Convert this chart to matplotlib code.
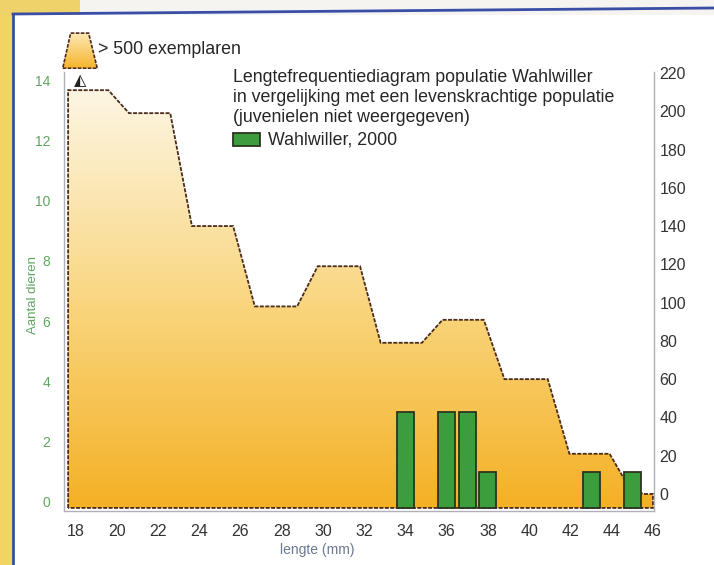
"""
Lengtefrequentiediagram populatie Wahlwiller t.o.v. een levenskrachtige populatie.
"""

import matplotlib
matplotlib.use('Agg')
import matplotlib.pyplot as plt
import numpy as np
from matplotlib.colors import LinearSegmentedColormap
from matplotlib.patches import Polygon, Rectangle
from matplotlib.lines import Line2D

plt.rcParams['font.family'] = ['Liberation Sans', 'DejaVu Sans']

W, H = 714, 565

# referentiepopulatie (rechter as), omtrek als hoekpunten (lengte mm, aantal)
ref_lengte = [17.65, 19.6, 20.6, 22.6, 23.65, 25.65, 26.7, 28.75, 29.75, 31.8,
              32.8, 34.8, 35.8, 37.8, 38.8, 40.9, 41.95, 43.9, 44.65, 45.5, 46.0]
ref_aantal = [211, 211, 199, 199, 140, 140, 98, 98, 119, 119,
              79, 79, 91, 91, 60, 60, 21, 21, 7, 0, 0]

# Wahlwiller 2000 (linker as)
wahl_lengte = [34, 36, 37, 38, 43, 45]
wahl_aantal = [3, 3, 3, 1, 1, 1]

x_ticks = list(range(18, 47, 2))
left_ticks = list(range(0, 15, 2))
right_ticks = list(range(0, 221, 20))

GREEN_TXT = '#5fa65f'
DARK = '#333333'
TXT = '#262626'
OUTLINE = '#4a2c1c'
SPINE = '#b0b0b8'


def px(x, y):
    return x / W, 1 - y / H


fig = plt.figure(figsize=(W / 100, H / 100), dpi=100)
fig.patch.set_facecolor('white')

# achtergrond buiten het kader
fig.patches.append(Rectangle((0, 0), 13 / W, 1, transform=fig.transFigure,
                             facecolor='#f1d462', edgecolor='none', zorder=0))
fig.patches.append(Rectangle(px(0, 15), 80 / W, 15 / H, transform=fig.transFigure,
                             facecolor='#eed36a', edgecolor='none', zorder=0))
fig.patches.append(Rectangle(px(80, 15), 1, 15 / H, transform=fig.transFigure,
                             facecolor='#f5f4f0', edgecolor='none', zorder=0))
fig.lines.append(Line2D([13 / W, 13 / W], [0, 1 - 14 / H], transform=fig.transFigure,
                        color='#3a4ea6', lw=2))
fig.lines.append(Line2D([13 / W, 1], [1 - 14 / H, 1 - 8 / H], transform=fig.transFigure,
                        color='#3a4ea6', lw=2))

left, right, bottom, top = 64, 654, 511, 72
ax = fig.add_axes([left / W, 1 - bottom / H, (right - left) / W, (bottom - top) / H])
ax2 = ax.twinx()
ax.set_zorder(ax2.get_zorder() + 1)
ax.patch.set_visible(False)

xmin, xmax = 17.45, 46.05
ax.set_xlim(xmin, xmax)
ax.set_ylim(-0.30, 14.27)
ax2.set_ylim(-8.9, 220.5)
base_r = -7.3
base_l = -0.2

# gradient vlak van de referentiepopulatie
verts = [(ref_lengte[0], base_r)] + list(zip(ref_lengte, ref_aantal)) + [(ref_lengte[-1], base_r)]
cmap = LinearSegmentedColormap.from_list('pop', [(0.0, '#f4b024'), (0.45, '#f9d47a'),
                                                 (0.8, '#fcecc4'), (1.0, '#fdf8ea')])
grad = np.linspace(0, 1, 256).reshape(-1, 1)
im = ax2.imshow(grad, cmap=cmap, origin='lower', aspect='auto',
                extent=[xmin, xmax, -8.9, 220.5], zorder=1)
clip = Polygon(verts, closed=True, transform=ax2.transData, facecolor='none',
               edgecolor=OUTLINE, lw=1.3, linestyle=(0, (2.2, 0.8)), zorder=2)
ax2.add_patch(clip)
im.set_clip_path(clip)

# marker boven het vlak
ax2.text(18.25, 216, '\u25ed', fontsize=11.5, ha='center', va='center', color='#222222',
         family=['DejaVu Sans'])

# staven Wahlwiller
heights = [v - base_l for v in wahl_aantal]
ax.bar(wahl_lengte, heights, bottom=base_l, width=0.82, color='#3b9d3b',
       edgecolor='#2a3520', linewidth=1.3, zorder=3)

for s in ['top', 'right']:
    ax.spines[s].set_visible(False)
for s in ['top', 'left', 'bottom']:
    ax2.spines[s].set_visible(False)
for s in ['left', 'bottom']:
    ax.spines[s].set_color(SPINE)
    ax.spines[s].set_linewidth(1)
ax2.spines['right'].set_color(SPINE)
ax2.spines['right'].set_linewidth(1)

ax.set_xticks(x_ticks)
ax.set_yticks(left_ticks)
ax2.set_yticks(right_ticks)
ax.tick_params(axis='x', length=0, pad=9, labelsize=11.5, labelcolor=DARK)
ax.tick_params(axis='y', length=0, pad=10, labelsize=10, labelcolor=GREEN_TXT)
ax2.tick_params(axis='y', length=0, pad=4, labelsize=11.5, labelcolor=DARK)

fig.text(*px(33, 295), 'Aantal dieren', rotation=90, ha='center', va='center',
         fontsize=9.5, color=GREEN_TXT)
fig.text(*px(317, 550), 'lengte (mm)', ha='center', va='center', fontsize=10,
         color='#6b7890')

# titelblok
title_lines = ['Lengtefrequentiediagram populatie Wahlwiller',
               'in vergelijking met een levenskrachtige populatie',
               '(juvenielen niet weergegeven)']
for i, line in enumerate(title_lines):
    fig.text(*px(233, 77 + 20 * i), line, ha='left', va='center', fontsize=12.8,
             color=TXT)
fig.patches.append(Rectangle(px(233, 146), 27 / W, 13 / H, transform=fig.transFigure,
                             facecolor='#3b9d3b', edgecolor='#2a3520', lw=1.3, zorder=3))
fig.text(*px(268, 140), 'Wahlwiller, 2000', ha='left', va='center', fontsize=12.8,
         color=TXT)

# legenda-icoon: > 500 exemplaren
iax = fig.add_axes([62 / W, 1 - 69 / H, 36 / W, 37 / H])
iax.set_xlim(0, 1)
iax.set_ylim(0, 1)
iax.axis('off')
icon_cmap = LinearSegmentedColormap.from_list('icon', ['#f5b42a', '#fde9b8'])
iim = iax.imshow(grad, cmap=icon_cmap, origin='lower', aspect='auto', extent=[0, 1, 0, 1])
trap = Polygon([(0.02, 0.02), (0.98, 0.02), (0.74, 0.97), (0.24, 0.97)], closed=True,
               transform=iax.transData, facecolor='none', edgecolor=OUTLINE, lw=1.2,
               linestyle=(0, (2.2, 0.8)))
iax.add_patch(trap)
iim.set_clip_path(trap)
fig.text(*px(98, 50), '> 500 exemplaren', ha='left', va='center', fontsize=12.8,
         color=TXT)

fig.savefig('out.png', dpi=100)
plt.close(fig)
